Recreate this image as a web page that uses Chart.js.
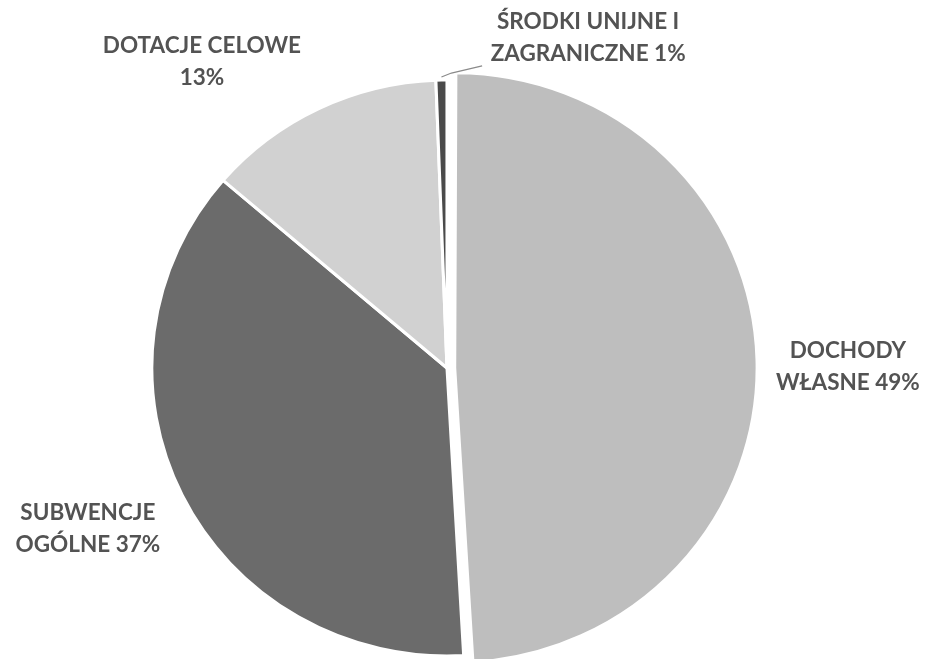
<!DOCTYPE html>
<html>
<head>
<meta charset="utf-8">
<script src="https://cdn.jsdelivr.net/npm/chart.js@4"></script>
<style>
  html, body { margin: 0; padding: 0; background: #fff; }
  #wrap { width: 925px; height: 659px; }
</style>
</head>
<body>
<div id="wrap"><canvas id="pieChart" width="925" height="659"></canvas></div>
<script>
// Chart data
const categories = ['DOCHODY WŁASNE', 'SUBWENCJE OGÓLNE', 'DOTACJE CELOWE', 'ŚRODKI UNIJNE I ZAGRANICZNE'];
const shares = [49.1, 37.2, 13.1, 0.6];
const shareLabels = ['49%', '37%', '13%', '1%'];
const labelLines = [
  ['DOCHODY', 'WŁASNE ' + shareLabels[0]],
  ['SUBWENCJE', 'OGÓLNE ' + shareLabels[1]],
  ['DOTACJE CELOWE', shareLabels[2]],
  ['ŚRODKI UNIJNE I', 'ZAGRANICZNE ' + shareLabels[3]]
];
const sliceColors = ['#bebebe', '#6b6b6b', '#d1d1d1', '#4a4a4a'];

// label anchor, in units of the pie radius from the centre
const labelAnchors = [[1.392, -0.006], [-1.247, 0.559], [-0.851, -1.062], [0.49, -1.146]];
const stretchX = 1.025; // the scanned pie is a little wider than tall

const labelPlugin = {
  id: 'sliceLabels',
  beforeDatasetsDraw(chart) {
    const ctx = chart.ctx;
    const arc = chart.getDatasetMeta(0).data[0];
    ctx.save();
    ctx.translate(arc.x, 0);
    ctx.scale(stretchX, 1);
    ctx.translate(-arc.x, 0);
  },
  afterDatasetsDraw(chart) {
    const ctx = chart.ctx;
    ctx.restore();
    const meta = chart.getDatasetMeta(0);
    ctx.save();
    ctx.font = 'bold 22.5px Lato';
    ctx.fillStyle = '#535353';
    ctx.textAlign = 'center';
    ctx.textBaseline = 'middle';
    meta.data.forEach((arc, i) => {
      const r = arc.outerRadius;
      const cx = arc.x, cy = arc.y;
      const ax = cx + labelAnchors[i][0] * r;
      const ay = cy + labelAnchors[i][1] * r;
      const lines = labelLines[i];
      lines.forEach((t, k) => {
        ctx.fillText(t, ax, ay + (k - (lines.length - 1) / 2) * 32);
      });
      if (i === 3) {
        // leader line from the thin slice to its label
        const mid = (arc.startAngle + arc.endAngle) / 2;
        const px = cx + Math.cos(mid) * r * stretchX;
        const py = cy + Math.sin(mid) * r;
        ctx.strokeStyle = '#8a8a8a';
        ctx.lineWidth = 1.2;
        ctx.beginPath();
        ctx.moveTo(px, py - 3);
        ctx.lineTo(px + 10, py - 7);
        ctx.lineTo(ax - 106, ay + 28);
        ctx.stroke();
      }
    });
    ctx.restore();
  }
};

new Chart(document.getElementById('pieChart').getContext('2d'), {
  type: 'pie',
  data: {
    labels: categories,
    datasets: [{
      data: shares,
      backgroundColor: sliceColors,
      borderColor: '#ffffff',
      borderWidth: 3,
      offset: [30, 0, 0, 0]
    }]
  },
  options: {
    responsive: false,
    animation: false,
    radius: 288,
    layout: { padding: { left: 0, right: 31, top: 77, bottom: 0 } },
    plugins: {
      legend: { display: false },
      tooltip: { enabled: false }
    }
  },
  plugins: [labelPlugin]
});
</script>
</body>
</html>
